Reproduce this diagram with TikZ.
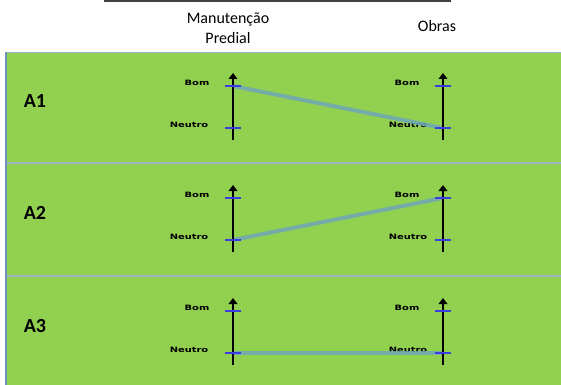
\documentclass[tikz,border=0pt]{standalone}
\usepackage{fontspec}
\setmainfont{Carlito}
\newfontfamily\lblfont{DejaVu Sans}
\usetikzlibrary{arrows.meta}
\definecolor{panelgreen}{HTML}{92D050}
\definecolor{edgeblue}{HTML}{6C93B8}
\definecolor{divgray}{HTML}{9DB4C4}
\definecolor{tickblue}{HTML}{3C3CE0}
\definecolor{linkblue}{HTML}{6FA8B8}
\definecolor{topline}{HTML}{404040}
\begin{document}
\begin{tikzpicture}[x=0.75pt,y=-0.75pt,
  panel/.style={fill=panelgreen,draw=none},
  header/.style={font=\fontsize{12}{14}\selectfont,inner sep=0pt,align=center},
  plabel/.style={font=\fontsize{15}{17}\selectfont\bfseries,inner sep=0pt},
  lbl/.style={font=\lblfont\bfseries\fontsize{5.5}{6}\selectfont,inner sep=0pt},
  axisline/.style={line width=2.2pt,-{Triangle[width=6.5pt,length=4.5pt]}},
  tickmark/.style={draw=tickblue,line width=1.1pt},
  link/.style={draw=linkblue,line width=3pt,opacity=0.85}]
\useasboundingbox (0,0) rectangle (561,385);
% header
\draw[topline,line width=1.8pt] (104,1) -- (451,1);
\node[header] (hman) at (228,28) {Manutenção\\[1pt]Predial};
\node[header] (hobr) at (437,26) {Obras};
% panels
\fill[panelgreen] (6,52) rectangle (561,385);
\draw[divgray,line width=0.6pt] (6,52) -- (561,52);
\draw[divgray,line width=1.6pt] (6,163) -- (561,163);
\draw[divgray,line width=1.6pt] (6,276) -- (561,276);
\draw[edgeblue,line width=1.3pt] (6,52) -- (6,385);
\foreach \i/\oy in {1/0,2/112,3/225}{
  \node[plabel] (A\i) at (35,{101+\oy}) {A\i};
  \node[lbl] (lb\i) at (197,{83+\oy}) {\scalebox{1.35}[1]{Bom}};
  \node[lbl] (ln\i) at (189,{125+\oy}) {\scalebox{1.35}[1]{Neutro}};
  \node[lbl] (rb\i) at (407,{83+\oy}) {\scalebox{1.35}[1]{Bom}};
  \node[lbl] (rn\i) at (408,{125+\oy}) {\scalebox{1.35}[1]{Neutro}};
  \coordinate (LB\i) at (233,{86+\oy});
  \coordinate (LN\i) at (233,{128+\oy});
  \coordinate (RB\i) at (443,{86+\oy});
  \coordinate (RN\i) at (443,{128+\oy});
  \coordinate (Lbot\i) at (233,{140+\oy});
  \coordinate (Ltop\i) at (233,{73+\oy});
  \coordinate (Rbot\i) at (443,{140+\oy});
  \coordinate (Rtop\i) at (443,{73+\oy});
}
\draw[link] (LB1) -- (RN1);
\draw[link] (LN2) -- (RB2);
\draw[link] (LN3) -- (RN3);
\foreach \i in {1,2,3}{
  \draw[axisline] (Lbot\i) -- (Ltop\i);
  \draw[axisline] (Rbot\i) -- (Rtop\i);
  \draw[tickmark] ([xshift=-6pt]LB\i) -- ([xshift=6pt]LB\i);
  \draw[tickmark] ([xshift=-6pt]LN\i) -- ([xshift=6pt]LN\i);
  \draw[tickmark] ([xshift=-6pt]RB\i) -- ([xshift=6pt]RB\i);
  \draw[tickmark] ([xshift=-6pt]RN\i) -- ([xshift=6pt]RN\i);
}
\end{tikzpicture}
\end{document}
